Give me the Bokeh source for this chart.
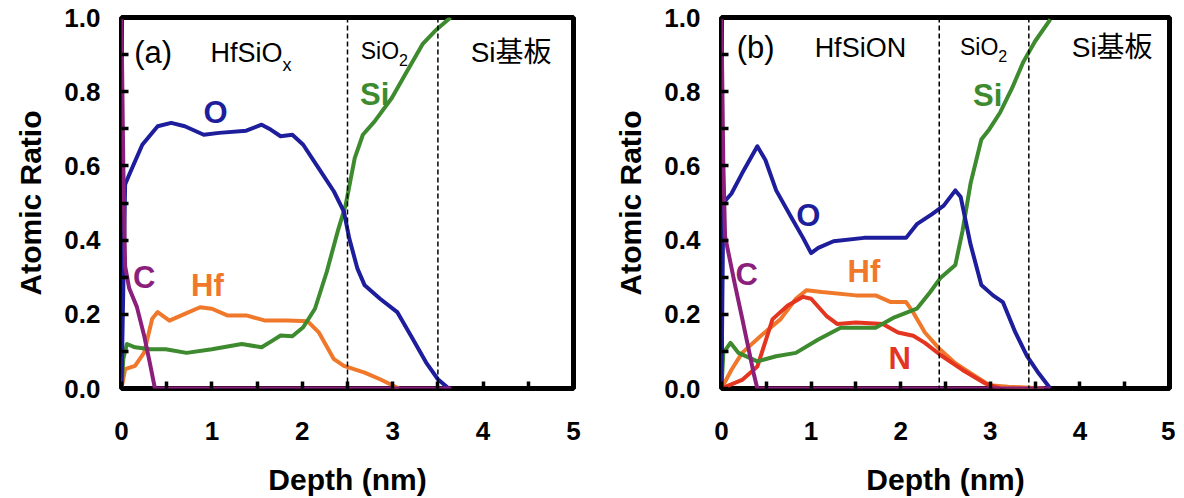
from bokeh.plotting import figure
from bokeh.layouts import row
from bokeh.models import Range1d, FixedTicker, PrintfTickFormatter, Span
from bokeh.core.properties import value
from bokeh.embed import file_html
from bokeh.resources import INLINE

# ---------------- data: panel (a) HfSiOx ----------------
a_O_x = [0.0, 0.04, 0.085, 0.23, 0.40, 0.55, 0.70, 0.91, 1.08, 1.38, 1.55, 1.65, 1.76, 1.89, 2.01, 2.18, 2.35, 2.46, 2.52, 2.61, 2.69, 2.86, 3.05, 3.20, 3.37, 3.50, 3.62]
a_O_y = [0.0, 0.55, 0.576, 0.657, 0.707, 0.716, 0.707, 0.684, 0.689, 0.695, 0.711, 0.698, 0.680, 0.684, 0.657, 0.594, 0.531, 0.477, 0.404, 0.323, 0.278, 0.242, 0.206, 0.143, 0.070, 0.025, 0.0]

a_Si_x = [0.0, 0.02, 0.06, 0.15, 0.32, 0.49, 0.72, 1.00, 1.33, 1.55, 1.67, 1.76, 1.89, 2.01, 2.14, 2.27, 2.39, 2.48, 2.58, 2.67, 2.80, 2.99, 3.16, 3.33, 3.47, 3.64]
a_Si_y = [0.0, 0.08, 0.12, 0.111, 0.106, 0.106, 0.096, 0.106, 0.12, 0.111, 0.129, 0.143, 0.141, 0.165, 0.215, 0.314, 0.422, 0.495, 0.621, 0.684, 0.72, 0.783, 0.856, 0.928, 0.964, 1.0]

a_Hf_x = [0.0, 0.04, 0.15, 0.25, 0.34, 0.40, 0.53, 0.70, 0.87, 1.00, 1.17, 1.38, 1.59, 1.84, 2.06, 2.18, 2.35, 2.46, 2.69, 2.86, 3.07]
a_Hf_y = [0.0, 0.052, 0.061, 0.097, 0.188, 0.206, 0.183, 0.201, 0.219, 0.215, 0.197, 0.197, 0.183, 0.183, 0.181, 0.152, 0.079, 0.061, 0.043, 0.025, 0.0]

a_C_x = [0.0, 0.02, 0.04, 0.085, 0.17, 0.25, 0.32, 0.37, 3.65]
a_C_y = [1.0, 0.60, 0.33, 0.27, 0.22, 0.143, 0.061, 0.0, 0.0]

# ---------------- data: panel (b) HfSiON ----------------
b_O_x = [0.0, 0.02, 0.11, 0.23, 0.40, 0.49, 0.61, 0.78, 0.91, 1.00, 1.08, 1.25, 1.59, 2.06, 2.18, 2.35, 2.48, 2.61, 2.67, 2.78, 2.90, 3.03, 3.14, 3.28, 3.41, 3.54, 3.67]
b_O_y = [0.0, 0.50, 0.525, 0.58, 0.653, 0.616, 0.534, 0.461, 0.406, 0.365, 0.379, 0.397, 0.406, 0.406, 0.443, 0.47, 0.493, 0.534, 0.516, 0.388, 0.279, 0.251, 0.233, 0.151, 0.087, 0.041, 0.0]

b_Si_x = [0.0, 0.02, 0.10, 0.19, 0.40, 0.61, 0.83, 1.08, 1.33, 1.50, 1.72, 1.93, 2.18, 2.33, 2.44, 2.61, 2.69, 2.78, 2.90, 2.99, 3.11, 3.24, 3.37, 3.50, 3.67]
b_Si_y = [0.0, 0.096, 0.123, 0.096, 0.073, 0.087, 0.096, 0.132, 0.164, 0.164, 0.164, 0.192, 0.215, 0.26, 0.297, 0.333, 0.425, 0.553, 0.671, 0.699, 0.744, 0.808, 0.881, 0.936, 0.995]

b_Hf_x = [0.0, 0.11, 0.23, 0.44, 0.66, 0.83, 0.95, 1.12, 1.50, 1.72, 1.89, 2.06, 2.14, 2.27, 2.44, 2.61, 2.78, 2.99, 3.20, 3.60]
b_Hf_y = [0.0, 0.05, 0.096, 0.142, 0.187, 0.242, 0.265, 0.26, 0.251, 0.251, 0.233, 0.233, 0.205, 0.151, 0.105, 0.068, 0.041, 0.009, 0.005, 0.0]

b_N_x = [0.0, 0.23, 0.40, 0.57, 0.74, 0.91, 1.00, 1.17, 1.29, 1.50, 1.80, 1.97, 2.14, 2.27, 2.44, 2.69, 2.94, 3.11]
b_N_y = [0.0, 0.023, 0.059, 0.187, 0.224, 0.247, 0.242, 0.196, 0.174, 0.178, 0.174, 0.151, 0.142, 0.123, 0.091, 0.05, 0.014, 0.0]

b_C_x = [0.0, 0.02, 0.04, 0.15, 0.23, 0.36, 0.40, 3.67]
b_C_y = [1.0, 0.61, 0.41, 0.28, 0.19, 0.04, 0.0, 0.0]

# layer boundaries (dashed lines)
a_bounds = [2.5, 3.5]
b_bounds = [2.43, 3.43]

x_major = [0, 1, 2, 3, 4, 5]
x_minor = [0.5, 1.5, 2.5, 3.5, 4.5]
y_major = [0.0, 0.2, 0.4, 0.6, 0.8, 1.0]
y_minor = [0.1, 0.3, 0.5, 0.7, 0.9]

C_O = "#1e1e9c"
C_SI = "#3d8b2e"
C_HF = "#f0782a"
C_C = "#8c1f7c"
C_N = "#e3351f"

FONT = "Liberation Sans"
CJK = "Liberation Sans, Noto Sans CJK JP"

TOP = 17
FRAME_H = 375
H = 498


def make_panel(left_border, frame_w, right_border):
    p = figure(width=left_border + frame_w + right_border, height=H,
               x_range=Range1d(0, 5), y_range=Range1d(0, 1),
               output_backend="svg", toolbar_location=None,
               min_border_left=left_border, min_border_right=right_border,
               min_border_top=TOP, min_border_bottom=H - TOP - FRAME_H)
    p.grid.visible = False
    p.outline_line_color = "black"
    p.outline_line_width = 5
    p.background_fill_color = "white"
    p.border_fill_color = "white"

    p.xaxis.ticker = FixedTicker(ticks=x_major, minor_ticks=x_minor)
    p.yaxis.ticker = FixedTicker(ticks=y_major, minor_ticks=y_minor)
    p.yaxis.formatter = PrintfTickFormatter(format="%.1f")
    for ax in (p.xaxis, p.yaxis):
        ax.axis_line_color = None
        ax.major_tick_in = 7
        ax.major_tick_out = 0
        ax.minor_tick_in = 7
        ax.minor_tick_out = 0
        ax.major_tick_line_width = 3.5
        ax.minor_tick_line_width = 3.5
        ax.major_tick_line_color = "black"
        ax.minor_tick_line_color = "black"
        ax.major_label_text_font = FONT
        ax.major_label_text_font_style = "bold"
        ax.major_label_text_font_size = "26px"
        ax.major_label_text_color = "black"
        ax.axis_label_text_font = FONT
        ax.axis_label_text_font_style = "bold"
        ax.axis_label_text_font_size = "30px"
        ax.axis_label_text_color = "black"
    p.xaxis.major_label_standoff = 33
    p.xaxis.axis_label_standoff = 20
    p.yaxis.major_label_standoff = 21
    p.yaxis.axis_label_standoff = 14
    p.xaxis.axis_label = "Depth (nm)"
    p.yaxis.axis_label = "Atomic Ratio"
    return p


def label(p, x, y, t, color="black", size="26px", style="normal", align="center", yoff=0, font=FONT):
    p.text(x=[x], y=[y], text=[t], text_color=color, text_font=value(font),
           text_font_size=size, text_font_style=style, text_align=align,
           text_baseline="middle", y_offset=yoff)


lw = 4

# ---------------- panel (a) ----------------
pa = make_panel(121, 452, 24)
for b in a_bounds:
    pa.add_layout(Span(location=b, dimension="height", line_color="black",
                       line_width=1.5, line_dash="5 3"))
pa.line(a_Hf_x, a_Hf_y, color=C_HF, line_width=lw, line_join="round")
pa.line(a_Si_x, a_Si_y, color=C_SI, line_width=lw, line_join="round")
pa.line(a_O_x, a_O_y, color=C_O, line_width=lw, line_join="round")
pa.line(a_C_x, a_C_y, color=C_C, line_width=lw, line_join="round")

label(pa, 0.14, 0.905, "(a)", align="left", size="31px")
label(pa, 1.78, 0.905, "HfSiO", align="right", size="27px")
label(pa, 1.78, 0.905, "x", align="left", size="18px", yoff=12)
label(pa, 3.07, 0.91, "SiO", align="right", size="23px")
label(pa, 3.07, 0.91, "2", align="left", size="16px", yoff=9)
label(pa, 4.31, 0.905, "Si基板", size="28px", font=CJK)
label(pa, 1.04, 0.743, "O", color=C_O, style="bold", size="31px")
label(pa, 2.80, 0.792, "Si", color=C_SI, style="bold", size="31px")
label(pa, 0.25, 0.30, "C", color=C_C, style="bold", size="31px")
label(pa, 0.95, 0.278, "Hf", color=C_HF, style="bold", size="31px")

# ---------------- panel (b) ----------------
pb = make_panel(124, 448, 6)
for b in b_bounds:
    pb.add_layout(Span(location=b, dimension="height", line_color="black",
                       line_width=1.5, line_dash="5 3"))
pb.line(b_Hf_x, b_Hf_y, color=C_HF, line_width=lw, line_join="round")
pb.line(b_N_x, b_N_y, color=C_N, line_width=lw, line_join="round")
pb.line(b_Si_x, b_Si_y, color=C_SI, line_width=lw, line_join="round")
pb.line(b_O_x, b_O_y, color=C_O, line_width=lw, line_join="round")
pb.line(b_C_x, b_C_y, color=C_C, line_width=lw, line_join="round")

label(pb, 0.17, 0.918, "(b)", align="left", size="31px")
label(pb, 1.55, 0.918, "HfSiON", size="27px")
label(pb, 3.09, 0.92, "SiO", align="right", size="23px")
label(pb, 3.09, 0.92, "2", align="left", size="16px", yoff=9)
label(pb, 4.36, 0.918, "Si基板", size="28px", font=CJK)
label(pb, 0.97, 0.466, "O", color=C_O, style="bold", size="31px")
label(pb, 2.97, 0.79, "Si", color=C_SI, style="bold", size="31px")
label(pb, 0.28, 0.306, "C", color=C_C, style="bold", size="31px")
label(pb, 1.59, 0.315, "Hf", color=C_HF, style="bold", size="31px")
label(pb, 1.99, 0.082, "N", color=C_N, style="bold", size="31px")

layout = row(pa, pb)
open("out.html", "w").write(file_html(layout, INLINE))
